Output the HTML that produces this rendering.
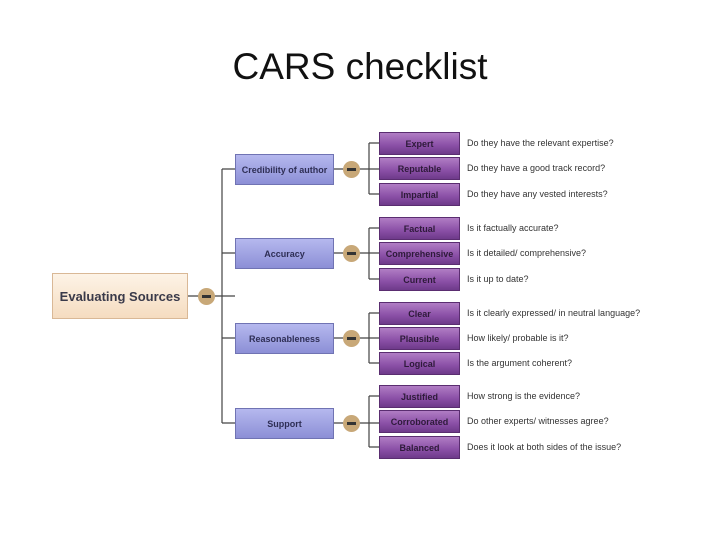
<!DOCTYPE html>
<html><head><meta charset="utf-8"><style>
body{margin:0;width:720px;height:540px;background:#fff;position:relative;overflow:hidden;font-family:"Liberation Sans",sans-serif}
.t{position:absolute;left:0;width:720px;top:46px;text-align:center;font-size:37px;color:#111}
.b{position:absolute;display:flex;align-items:center;justify-content:center;font-weight:bold;box-sizing:border-box}
.root{left:52px;top:273px;width:136px;height:46px;background:linear-gradient(#fdf3e6,#f5dcc0);border:1px solid #d9b896;font-size:13px;color:#3a3a4a}
.m{left:235px;width:99px;height:31px;background:linear-gradient(#b5b8ee,#8c8fd6);border:1px solid #7073b3;font-size:9px;color:#2e2e55}
.l{left:379px;width:81px;height:23px;background:linear-gradient(#b07dc4,#8a4fa6 60%,#6e3a8a);border:1px solid #5a2d70;font-size:9px;color:#2e1a3a}
.q{position:absolute;left:467px;font-size:9px;color:#333}
.c{position:absolute;width:17px;height:17px;border-radius:50%;background:#c8a878}
.c:after{content:"";position:absolute;left:4px;top:7px;width:9px;height:3px;background:#333}
</style></head><body>
<div class="t">CARS checklist</div>
<svg width="720" height="540" style="position:absolute;left:0;top:0">
<g stroke="#444" stroke-width="1.2" fill="none">
<path d="M188 296H235M222 169V423M222 169H235M222 253H235M222 338H235M222 423H235"/>
<path d="M334 169H379M369 143V194M369 143H379M369 194H379"/>
<path d="M334 253H379M369 228V279M369 228H379M369 279H379"/>
<path d="M334 338H379M369 313V363M369 313H379M369 363H379"/>
<path d="M334 423H379M369 396V447M369 396H379M369 447H379"/>
</g></svg>
<div class="b root">Evaluating Sources</div>
<div class="c" style="left:198px;top:288px"></div>
<div class="b m" style="top:154px">Credibility of author</div>
<div class="b m" style="top:238px">Accuracy</div>
<div class="b m" style="top:323px">Reasonableness</div>
<div class="b m" style="top:408px">Support</div>
<div class="c" style="left:343px;top:161px"></div>
<div class="c" style="left:343px;top:245px"></div>
<div class="c" style="left:343px;top:330px"></div>
<div class="c" style="left:343px;top:415px"></div>
<div class="b l" style="top:132px">Expert</div>
<div class="b l" style="top:157px">Reputable</div>
<div class="b l" style="top:183px">Impartial</div>
<div class="b l" style="top:217px">Factual</div>
<div class="b l" style="top:242px">Comprehensive</div>
<div class="b l" style="top:268px">Current</div>
<div class="b l" style="top:302px">Clear</div>
<div class="b l" style="top:327px">Plausible</div>
<div class="b l" style="top:352px">Logical</div>
<div class="b l" style="top:385px">Justified</div>
<div class="b l" style="top:410px">Corroborated</div>
<div class="b l" style="top:436px">Balanced</div>
<div class="q" style="top:138px">Do they have the relevant expertise?</div>
<div class="q" style="top:163px">Do they have a good track record?</div>
<div class="q" style="top:189px">Do they have any vested interests?</div>
<div class="q" style="top:223px">Is it factually accurate?</div>
<div class="q" style="top:248px">Is it detailed/ comprehensive?</div>
<div class="q" style="top:274px">Is it up to date?</div>
<div class="q" style="top:308px">Is it clearly expressed/ in neutral language?</div>
<div class="q" style="top:333px">How likely/ probable is it?</div>
<div class="q" style="top:358px">Is the argument coherent?</div>
<div class="q" style="top:391px">How strong is the evidence?</div>
<div class="q" style="top:416px">Do other experts/ witnesses agree?</div>
<div class="q" style="top:442px">Does it look at both sides of the issue?</div>
</body></html>
